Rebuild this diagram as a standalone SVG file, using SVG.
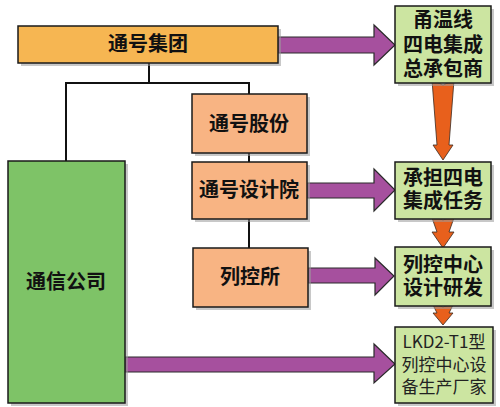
<svg xmlns="http://www.w3.org/2000/svg" width="500" height="407" viewBox="0 0 500 407">
<defs>
<style>
.box{stroke:#1a1a1a;stroke-width:1.5}
.sh{fill:#9a9a9a;opacity:0.55}
.t{font-family:"Noto Sans CJK SC","Noto Sans",sans-serif;font-weight:bold;font-size:20px;fill:#111;text-anchor:middle}
.tl{font-family:"Noto Sans CJK SC","Noto Sans",sans-serif;font-weight:normal;font-size:17px;fill:#222;text-anchor:middle}
.line{stroke:#111;stroke-width:2;fill:none}
.pa{fill:#A6509E;stroke:#2a2a2a;stroke-width:1.2}
.oa{fill:#E8601C;stroke:#3a2a20;stroke-width:0.8}
</style>
</defs>
<rect width="500" height="407" fill="#ffffff"/>
<g id="connectors">
<polyline class="line" points="149,63 149,83 66,83 66,161"/>
<polyline class="line" points="149,83 249,83 249,94"/>
<line class="line" x1="249" y1="153" x2="249" y2="162"/>
<line class="line" x1="249" y1="219" x2="249" y2="248"/>
<polygon class="pa" points="278,37 374,37 374,25 395,45 374,65 374,53 278,53"/>
<polygon class="pa" points="307,183 374,183 374,169 395,190 374,211 374,198 307,198"/>
<polygon class="pa" points="308,268 375,268 375,258 394,276 375,295 375,283 308,283"/>
<polygon class="pa" points="125,357 374,357 374,344 395,364 374,383 374,372 125,372"/>
<polygon class="oa" points="432,80 443,85 454,80 449,145 453,145 443,160 433,145 437,145"/>
<polygon class="oa" points="431,215 443,220 455,215 449,232 454,232 443,248 432,232 437,232"/>
<polygon class="oa" points="432,303 443,307 454,303 449,313 453,313 443,325 433,313 437,313"/>
</g>
<g id="n-group">
<rect class="sh" x="21" y="29" width="260" height="37"/>
<rect class="box" x="18" y="26" width="260" height="37" fill="#F6B652"/>
<text class="t" x="148" y="51">通号集团</text>
</g>
<g id="n-comm">
<rect class="sh" x="11" y="164" width="117" height="242"/>
<rect class="box" x="8" y="161" width="117" height="242" fill="#7EC367"/>
<text class="t" x="66" y="289">通信公司</text>
</g>
<g id="n-gufen">
<rect class="sh" x="195" y="97" width="115" height="59"/>
<rect class="box" x="192" y="94" width="115" height="59" fill="#F8B483"/>
<text class="t" x="249" y="131">通号股份</text>
</g>
<g id="n-design">
<rect class="sh" x="195" y="165" width="115" height="57"/>
<rect class="box" x="192" y="162" width="115" height="57" fill="#F8B483"/>
<text class="t" x="249" y="197">通号设计院</text>
</g>
<g id="n-lks">
<rect class="sh" x="196" y="251" width="115" height="59"/>
<rect class="box" x="193" y="248" width="115" height="59" fill="#F8B483"/>
<text class="t" x="250" y="284">列控所</text>
</g>
<g id="n-r1">
<rect class="sh" x="398" y="9" width="96" height="77"/>
<rect class="box" x="395" y="6" width="96" height="77" fill="#CCE5A1"/>
<text class="t" x="443" y="27">甬温线</text>
<text class="t" x="443" y="52">四电集成</text>
<text class="t" x="443" y="76">总承包商</text>
</g>
<g id="n-r2">
<rect class="sh" x="398" y="165" width="96" height="57"/>
<rect class="box" x="395" y="162" width="96" height="57" fill="#CCE5A1"/>
<text class="t" x="443" y="185">承担四电</text>
<text class="t" x="443" y="208">集成任务</text>
</g>
<g id="n-r3">
<rect class="sh" x="398" y="250" width="96" height="59"/>
<rect class="box" x="395" y="247" width="96" height="59" fill="#CCE5A1"/>
<text class="t" x="443" y="272">列控中心</text>
<text class="t" x="443" y="295">设计研发</text>
</g>
<g id="n-r4">
<rect class="sh" x="398" y="330" width="98" height="76"/>
<rect class="box" x="395" y="327" width="98" height="76" fill="#CCE5A1"/>
<text class="tl" x="444" y="348">LKD2-T1型</text>
<text class="tl" x="444" y="371">列控中心设</text>
<text class="tl" x="444" y="393">备生产厂家</text>
</g>
</svg>
